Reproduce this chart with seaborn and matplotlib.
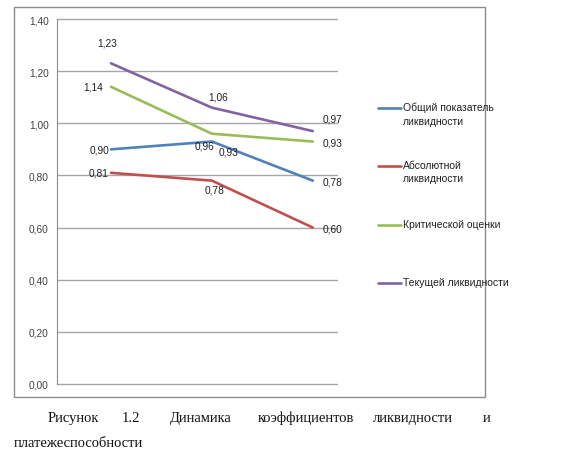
import seaborn as sns
import pandas as pd
from matplotlib import pyplot as plt
from matplotlib.lines import Line2D
from matplotlib.patches import Rectangle

# data
periods = ['2011', '2012', '2013']
series_names = ['Общий показатель\nликвидности', 'Абсолютной\nликвидности',
                'Критической оценки', 'Текущей ликвидности']
obshiy = [0.90, 0.93, 0.78]
absol = [0.81, 0.78, 0.60]
kritich = [1.14, 0.96, 0.93]
tekush = [1.23, 1.06, 0.97]
yticks = [0.0, 0.2, 0.4, 0.6, 0.8, 1.0, 1.2, 1.4]

colors = ['#4F81BD', '#C0504D', '#9BBB59', '#8064A2']

rows = []
for name, vals in zip(series_names, [obshiy, absol, kritich, tekush]):
    for i, v in enumerate(vals):
        rows.append({'x': i, 'value': v, 'series': name})
data = pd.DataFrame(rows)

sns.set_style('white')
plt.rcParams['font.family'] = ['Liberation Sans', 'DejaVu Sans']

W, H = 563, 460
fig = plt.figure(figsize=(W / 100, H / 100), dpi=100)

# outer chart box
fig.add_artist(Rectangle((14 / W, 1 - 398 / H), 471 / W, 390 / H, transform=fig.transFigure,
                         fill=False, edgecolor='#8c8c8c', linewidth=1.0))

ax = fig.add_axes([57 / W, 1 - 385 / H, 280 / W, 365 / H])
ax.set_facecolor('none')
sns.lineplot(data=data, x='x', y='value', hue='series', palette=colors,
             linewidth=1.9, ax=ax, legend=False)

ax.set_ylim(0, 1.4)
ax.set_xlim(-0.535, 2.24)
ax.set_yticks(yticks)
ax.set_yticklabels([f'{t:.2f}'.replace('.', ',') for t in yticks], fontsize=7.3, color='#404040')
ax.set_xticks([])
ax.set_xlabel('')
ax.set_ylabel('')
ax.grid(axis='y', color='#a6a6a6', linewidth=1.0)
for gl in ax.get_ygridlines():
    gl.set_clip_on(False)
ax.set_axisbelow(True)
for s in ['top', 'right', 'bottom']:
    ax.spines[s].set_visible(False)
ax.spines['left'].set_color('#8c8c8c')
ax.tick_params(axis='y', length=0, pad=6)

# data labels (offsets in pixels)
offsets = [
    [(-11, 0), (17, -10), (20, -1)],
    [(-12, 0), (3, -9), (20, -1)],
    [(-18, 0), (-7, -12), (20, -1)],
    [(-4, 21), (6, 11), (20, 13)],
]
for vals, offs in zip([obshiy, absol, kritich, tekush], offsets):
    for i, (v, o) in enumerate(zip(vals, offs)):
        ax.annotate(f'{v:.2f}'.replace('.', ','), (i, v), xytext=o, textcoords='offset pixels',
                    ha='center', va='center', fontsize=7.3, color='#202020')

# legend
leg_y = [109, 167, 226, 284]
for name, c, y in zip(series_names, colors, leg_y):
    fig.add_artist(Line2D([378 / W, 401 / W], [1 - y / H, 1 - y / H], transform=fig.transFigure,
                          color=c, linewidth=1.9))
    fig.text(403 / W, 1 - (y - 6) / H, name, fontsize=7.5, color='#202020', va='top', ha='left',
             linespacing=1.4)

# caption (justified)
words = ['Рисунок', '1.2', 'Динамика', 'коэффициентов', 'ликвидности', 'и']
word_x = [48, 122, 170, 258, 373, 483]
for w, x in zip(words, word_x):
    fig.text(x / W, 1 - 422 / H, w, fontsize=10.5, family='Liberation Serif', color='#111111',
             va='baseline', ha='left')
fig.text(14 / W, 1 - 447 / H, 'платежеспособности', fontsize=10.5, family='Liberation Serif',
         color='#111111', va='baseline', ha='left')

fig.savefig('out.png', dpi=100)
